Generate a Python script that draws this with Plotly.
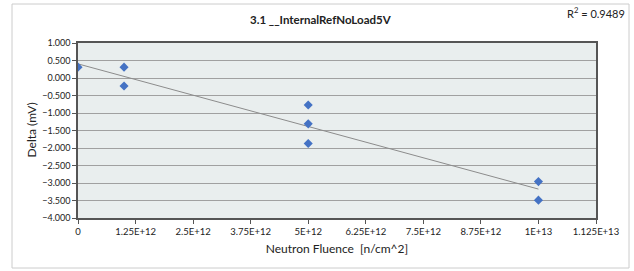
import numpy as np
import plotly.graph_objects as go

fluence = [0, 1e12, 1e12, 5e12, 5e12, 5e12, 1e13, 1e13]
delta = [0.31, 0.31, -0.23, -0.77, -1.31, -1.87, -2.96, -3.49]
x_tickvals = [0, 1.25e12, 2.5e12, 3.75e12, 5e12, 6.25e12, 7.5e12, 8.75e12, 1e13, 1.125e13]
x_ticktext = ["0", "1.25E+12", "2.5E+12", "3.75E+12", "5E+12", "6.25E+12",
              "7.5E+12", "8.75E+12", "1E+13", "1.125E+13"]
y_tickvals = [1.0, 0.5, 0.0, -0.5, -1.0, -1.5, -2.0, -2.5, -3.0, -3.5, -4.0]
title = "3.1 __InternalRefNoLoad5V"
r2_text = "R<sup>2</sup> = 0.9489"
x_title = "Neutron Fluence  [n/cm^2]"
y_title = "Delta (mV)"

slope, intercept = np.polyfit(np.array(fluence) / 1e12, np.array(delta), 1)
trend_x = [min(fluence), max(fluence)]
trend_y = [intercept + slope * v / 1e12 for v in trend_x]

font = "Lato"
fig = go.Figure()
fig.add_trace(go.Scatter(x=trend_x, y=trend_y, mode="lines",
                         line=dict(color="#8c8c8c", width=1), hoverinfo="skip"))
fig.add_trace(go.Scatter(x=fluence, y=delta, mode="markers",
                         marker=dict(symbol="diamond", size=7, color="#4472C4")))

L, R, T, B = 78, 38, 43, 53
W, H = 634, 271
pw, ph = W - L - R, H - T - B

def px(xpix):
    return (xpix - L) / pw

def py(ypix):
    return (H - B - ypix) / ph

fig.update_layout(
    width=W, height=H,
    margin=dict(l=L, r=R, t=T, b=B, autoexpand=False),
    paper_bgcolor="white",
    plot_bgcolor="#E9EEEE",
    showlegend=False,
    font=dict(family=font, size=9, color="#222"),
    xaxis=dict(range=[0, 1.125e13], tickvals=x_tickvals, ticktext=x_ticktext,
               showgrid=False, zeroline=False, showline=True, linecolor="#555",
               linewidth=1.5, mirror=True, ticks="outside", ticklen=4,
               tickcolor="#555", tickfont=dict(size=9.5),
               title=dict(text=x_title, font=dict(size=12), standoff=8)),
    yaxis=dict(range=[-4.0, 1.0], tickvals=y_tickvals, tickformat=".3f",
               showgrid=True, gridcolor="#a0a0a0", gridwidth=1,
               zeroline=False, showline=True, linecolor="#555", linewidth=1.5,
               mirror=True, ticks="outside", ticklen=4, tickcolor="#555",
               tickfont=dict(size=9)),
    annotations=[
        dict(text="<b>" + title + "</b>", xref="paper", yref="paper",
             x=px(321), y=py(20), yanchor="middle", showarrow=False,
             font=dict(size=11.5)),
        dict(text=r2_text, xref="paper", yref="paper", x=px(627), y=py(12),
             xanchor="right", yanchor="middle", showarrow=False, font=dict(size=11)),
        dict(text=y_title, xref="paper", yref="paper", x=px(31), y=0.5,
             xanchor="center", yanchor="middle", textangle=-90, showarrow=False,
             font=dict(size=12)),
    ],
    shapes=[dict(type="rect", xref="paper", yref="paper",
                 x0=px(12), x1=px(629), y0=py(268), y1=py(4),
                 line=dict(color="#cccccc", width=1), layer="below")],
)

fig.write_html("out.html", config={"displayModeBar": False},
               post_script="document.body.style.margin='0';document.body.style.padding='0';")
